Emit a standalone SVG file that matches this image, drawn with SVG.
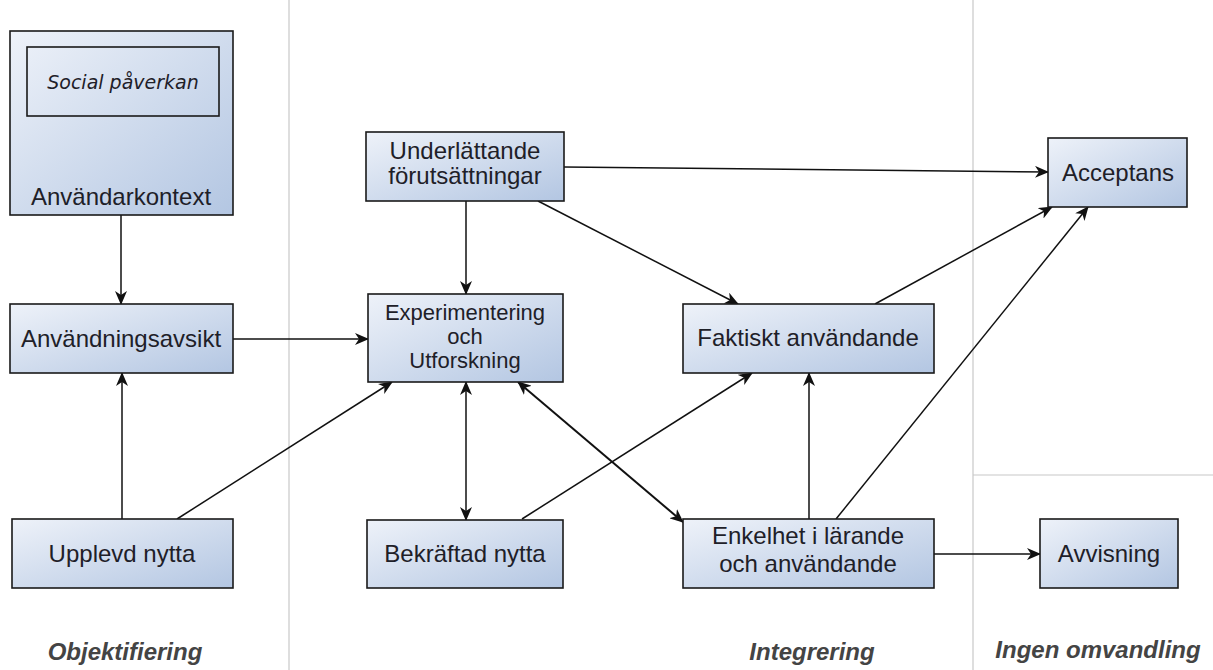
<svg xmlns="http://www.w3.org/2000/svg" width="1213" height="670" viewBox="0 0 1213 670">
<style>
.box{stroke:#1a1a1a;stroke-width:1.6;fill:url(#g)}
.inner{stroke:#1a1a1a;stroke-width:1.6;fill:none}
.t{font-family:"Liberation Sans",Arial,sans-serif;font-size:24px;fill:#1e2028;text-anchor:middle}
.ts{font-size:22px}
.it{font-family:"DejaVu Sans",sans-serif;font-style:italic;font-size:19px;fill:#1e2028;text-anchor:middle}
.sec{font-family:"Liberation Sans",Arial,sans-serif;font-size:24px;font-weight:bold;font-style:italic;fill:#444;text-anchor:middle}
.sep{stroke:#c8c8c8;stroke-width:1.2}
.c{stroke:#111;stroke-width:1.5;fill:none;marker-end:url(#a)}
.bi{marker-start:url(#a)}
</style>
<defs>
<linearGradient id="g" x1="0" y1="0" x2="1" y2="1">
<stop offset="0" stop-color="#eef2f9"/>
<stop offset="1" stop-color="#b3c6e2"/>
</linearGradient>
<marker id="a" viewBox="0 0 14 12" refX="13" refY="6" markerWidth="14" markerHeight="12" markerUnits="userSpaceOnUse" orient="auto-start-reverse">
<path d="M0,0 L14,6 L0,12 L4,6 Z" fill="#111"/>
</marker>
</defs>
<rect width="1213" height="670" fill="#fff"/>
<g id="separators">
<line class="sep" x1="289" y1="0" x2="289" y2="670"/>
<line class="sep" x1="973" y1="0" x2="973" y2="670"/>
<line class="sep" x1="973" y1="475" x2="1213" y2="475"/>
</g>
<g id="connectors">
<line class="c" x1="121" y1="215" x2="121" y2="304"/>
<line class="c" x1="122" y1="519" x2="122" y2="373"/>
<line class="c" x1="233" y1="339" x2="368" y2="339"/>
<line class="c" x1="177" y1="519" x2="392" y2="382"/>
<line class="c" x1="466" y1="201" x2="466" y2="294"/>
<line class="c" x1="564" y1="167" x2="1048" y2="172"/>
<line class="c" x1="538" y1="201" x2="738" y2="304"/>
<line class="c" x1="875" y1="304" x2="1052" y2="207"/>
<line class="c" x1="836" y1="519" x2="1088" y2="207"/>
<line class="c" x1="809" y1="519" x2="809" y2="373"/>
<line class="c" x1="522" y1="519" x2="752" y2="373"/>
<line class="c bi" x1="466" y1="382" x2="466" y2="520"/>
<line class="c bi" x1="518" y1="382" x2="683" y2="522" style="stroke-width:2"/>
<line class="c" x1="934" y1="554" x2="1040" y2="554"/>
</g>
<g id="anvandarkontext">
<rect class="box" x="10" y="31" width="223" height="184"/>
<rect class="inner" x="27" y="47" width="192" height="69"/>
<text class="it" x="123" y="89">Social påverkan</text>
<text class="t" x="121" y="205">Användarkontext</text>
</g>
<g id="anvandningsavsikt">
<rect class="box" x="10" y="304" width="223" height="69"/>
<text class="t" x="121" y="347">Användningsavsikt</text>
</g>
<g id="upplevd">
<rect class="box" x="12" y="519" width="221" height="69"/>
<text class="t" x="122" y="562">Upplevd nytta</text>
</g>
<g id="underlattande">
<rect class="box" x="366" y="132" width="198" height="69"/>
<text class="t" x="465" y="159">Underlättande</text>
<text class="t" x="465" y="184">förutsättningar</text>
</g>
<g id="experimentering">
<rect class="box" x="368" y="294" width="195" height="88"/>
<text class="t ts" x="465" y="320">Experimentering</text>
<text class="t ts" x="465" y="344">och</text>
<text class="t ts" x="465" y="368">Utforskning</text>
</g>
<g id="bekraftad">
<rect class="box" x="367" y="520" width="196" height="68"/>
<text class="t" x="465" y="562">Bekräftad nytta</text>
</g>
<g id="faktiskt">
<rect class="box" x="683" y="304" width="251" height="69"/>
<text class="t" x="808" y="346">Faktiskt användande</text>
</g>
<g id="enkelhet">
<rect class="box" x="683" y="519" width="251" height="69"/>
<text class="t" x="808" y="544">Enkelhet i lärande</text>
<text class="t" x="808" y="572">och användande</text>
</g>
<g id="acceptans">
<rect class="box" x="1048" y="138" width="139" height="69"/>
<text class="t" x="1118" y="181">Acceptans</text>
</g>
<g id="avvisning">
<rect class="box" x="1040" y="519" width="138" height="69"/>
<text class="t" x="1109" y="562">Avvisning</text>
</g>
<g id="labels">
<text class="sec" x="125" y="660">Objektifiering</text>
<text class="sec" x="812" y="660">Integrering</text>
<text class="sec" x="1098" y="658">Ingen omvandling</text>
</g>
</svg>
